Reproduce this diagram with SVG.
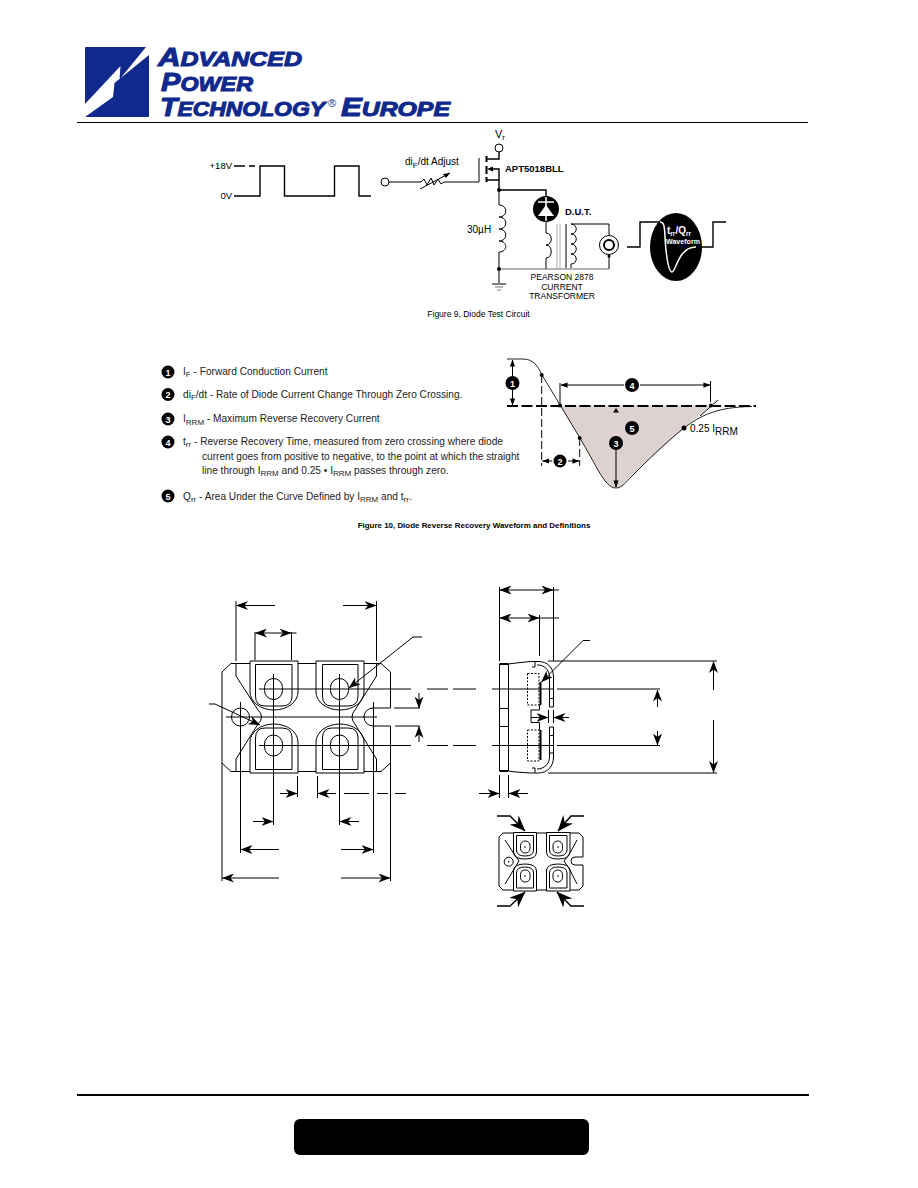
<svg xmlns="http://www.w3.org/2000/svg" width="918" height="1188" viewBox="0 0 918 1188">
<style>
text{font-family:"Liberation Sans",Arial,sans-serif;fill:#000}
.ln{fill:none;stroke:#000;stroke-width:1}
.l2{fill:none;stroke:#000;stroke-width:1.4}
.dim{fill:none;stroke:#000;stroke-width:1}
.dk{fill:#000;stroke:none}
.wn{fill:#fff;font-size:9px;font-weight:bold;text-anchor:middle}
.lg{font-size:10.15px;fill:#222}
.sub{font-size:8px}
.sub2{font-size:10px}
.wt{fill:#fff;font-weight:bold}
.logo{fill:#10298c;font-weight:bold;font-style:italic;stroke:#10298c;stroke-width:1}
</style>
<defs>
<marker id="a" viewBox="0 0 12 9" refX="11.5" refY="4.500" markerWidth="12" markerHeight="9" markerUnits="userSpaceOnUse" orient="auto-start-reverse"><path d="M0 0 L3.500 4.500 L0 9 L12 4.500Z" fill="#000"/></marker>
<marker id="b" viewBox="0 0 16 13" refX="15.500" refY="6.500" markerWidth="16" markerHeight="13" markerUnits="userSpaceOnUse" orient="auto-start-reverse"><path d="M0 0 L5 6.500 L0 13 L16 6.500Z" fill="#000"/></marker>
<marker id="s" viewBox="0 0 8 6" refX="7.500" refY="3" markerWidth="7" markerHeight="5.500" markerUnits="userSpaceOnUse" orient="auto-start-reverse"><path d="M0 0 L8 3 L0 6Z" fill="#000"/></marker>
</defs>
<rect width="918" height="1188" fill="#fff"/>
<g id="logo">
<rect x="85" y="47" width="64" height="70" rx="1" fill="#10298c"/>
<path d="M85 104 L120.500 66 L119.500 79.500 L146 47 L149 47 L149 55 L114.500 83 L113 97 L85 117Z" fill="#fff"/>
<text class="logo" x="158" y="66" font-size="25" textLength="144" lengthAdjust="spacingAndGlyphs">A<tspan font-size="20">DVANCED</tspan></text>
<text class="logo" x="161" y="91" font-size="25" textLength="92" lengthAdjust="spacingAndGlyphs">P<tspan font-size="20">OWER</tspan></text>
<text class="logo" x="160" y="116" font-size="25" textLength="165" lengthAdjust="spacingAndGlyphs">T<tspan font-size="20">ECHNOLOGY</tspan></text>
<text x="328" y="107" font-size="11" style="fill:#10298c">®</text>
<text class="logo" x="341" y="116" font-size="25" textLength="109" lengthAdjust="spacingAndGlyphs">E<tspan font-size="20">UROPE</tspan></text>
</g>
<path id="header-rule" d="M77 122.500H808" stroke="#000" stroke-width="1"/>
<g id="test-circuit">
<text x="232" y="169" font-size="9.500" text-anchor="end">+18V</text>
<text x="232" y="199" font-size="9.500" text-anchor="end">0V</text>
<path class="l2" d="M234 166H245M249 166H255"/>
<path class="l2" d="M234 196H260V166H284.500V196H334.500V166H359V196H371"/>
<circle class="ln" cx="385" cy="182" r="4"/>
<path class="ln" d="M389 182H421L424 179L427 185L431 178L434 185L438 179L441 184L444 182H479V158"/>
<path class="ln" d="M420 189L450 173"/>
<path d="M450 173L443 174L446 178Z" class="dk"/>
<text x="405" y="165" font-size="10">di<tspan class="sub" dy="3">F</tspan><tspan dy="-3">/dt Adjust</tspan></text>
<text x="495" y="138" font-size="11">V<tspan class="sub" dy="2">r</tspan></text>
<circle class="ln" cx="499" cy="148" r="4"/>
<path class="l2" d="M499 152V159H486"/>
<path d="M486.500 156V162M486.500 166V174M486.500 177V182" stroke="#000" stroke-width="2" fill="none"/>
<path class="l2" d="M492 169H499V180H486M499 180V190"/>
<path d="M487 169L493 166.500V171.500Z" class="dk"/>
<text x="505" y="172" font-size="9.500" font-weight="bold">APT5018BLL</text>
<circle cx="499" cy="190" r="2" class="dk"/>
<path class="l2" d="M499 190H546V196"/>
<circle cx="546" cy="209" r="13" class="dk"/>
<path d="M546 197V221" stroke="#fff" stroke-width="1.500"/>
<path d="M538 202H554" stroke="#fff" stroke-width="1.500"/>
<path d="M546 205L538 216H554Z" fill="#fff"/>
<text x="565" y="215" font-size="9.500" font-weight="bold">D.U.T.</text>
<path class="ln" d="M499 190V205C508 205 508 217 499 217C508 217 508 229 499 229C508 229 508 241 499 241C508 241 508 252 499 252V269"/>
<text x="467" y="233" font-size="10">30µH</text>
<path class="ln" d="M546 222V233C553 233 553 245 546 245C553 245 553 258 546 258V269"/>
<path stroke="#aaa" stroke-width="1" d="M557 224V268M560 224V268" fill="none"/>
<path class="ln" d="M566 224V268"/>
<path class="ln" d="M609 235V224H571C578 224 578 234 571 234C578 234 578 244 571 244C578 244 578 254 571 254C578 254 578 264 571 264V268M609 255V269"/>
<path stroke="#666" stroke-width="1" d="M499 269H609" fill="none"/>
<circle cx="609" cy="245" r="9.500" fill="none" stroke="#000" stroke-width="1"/>
<circle cx="609" cy="245" r="5" fill="none" stroke="#000" stroke-width="2"/>
<circle cx="609" cy="256" r="1.500" class="dk"/>
<circle cx="499" cy="269" r="2" class="dk"/>
<path class="ln" d="M499 269V283M492 284H506"/>
<path stroke="#777" d="M495 287H503M497 290H501" fill="none"/>
<text x="562" y="280" font-size="8.500" text-anchor="middle">PEARSON 2878</text>
<text x="562" y="289.500" font-size="8.500" text-anchor="middle">CURRENT</text>
<text x="562" y="299" font-size="8.500" text-anchor="middle">TRANSFORMER</text>
<ellipse cx="676" cy="247" rx="26" ry="34" class="dk"/>
<path class="l2" d="M627 247H640V222H660"/>
<path d="M660 222C666 222 664 232 666 250C668 268 670 272 672 272C676 272 678 247 696 247" fill="none" stroke="#fff" stroke-width="1.500"/>
<path class="l2" d="M696 247H713V222H726"/>
<text class="wt" x="667" y="234" font-size="10">t<tspan font-size="6.500" dy="2">rr</tspan><tspan dy="-2">/Q</tspan><tspan font-size="6.500" dy="2">rr</tspan></text>
<text class="wt" x="666" y="244" font-size="8" textLength="34" lengthAdjust="spacingAndGlyphs">Waveform</text>
<text x="478.500" y="317" font-size="8.500" text-anchor="middle">Figure 9, Diode Test Circuit</text>
</g>
<g id="definitions">
<g id="n1"><circle cx="168" cy="372" r="6.500" class="dk"/><text class="wn" x="168" y="375.500">1</text></g>
<g id="n2"><circle cx="168" cy="394.500" r="6.500" class="dk"/><text class="wn" x="168" y="398">2</text></g>
<g id="n3"><circle cx="168" cy="419" r="6.500" class="dk"/><text class="wn" x="168" y="422.500">3</text></g>
<g id="n4"><circle cx="168" cy="442" r="6.500" class="dk"/><text class="wn" x="168" y="445.500">4</text></g>
<g id="n5"><circle cx="168" cy="496" r="6.500" class="dk"/><text class="wn" x="168" y="499.500">5</text></g>
<text class="lg" x="183" y="375">I<tspan class="sub" dy="2">F</tspan><tspan dy="-2"> - Forward Conduction Current</tspan></text>
<text class="lg" x="183" y="398">di<tspan class="sub" dy="2">F</tspan><tspan dy="-2">/dt - Rate of Diode Current Change Through Zero Crossing.</tspan></text>
<text class="lg" x="183" y="422">I<tspan class="sub" dy="3">RRM</tspan><tspan dy="-3"> - Maximum Reverse Recovery Current</tspan></text>
<text class="lg" x="183" y="445">t<tspan class="sub" dy="2">rr</tspan><tspan dy="-2"> - Reverse Recovery Time, measured from zero crossing where diode</tspan></text>
<text class="lg" x="202" y="459.500">current goes from positive to negative, to the point at which the straight</text>
<text class="lg" x="202" y="474">line through I<tspan class="sub" dy="2">RRM</tspan><tspan dy="-2"> and 0.25 • I</tspan><tspan class="sub" dy="2">RRM</tspan><tspan dy="-2"> passes through zero.</tspan></text>
<text class="lg" x="183" y="500">Q<tspan class="sub" dy="2">rr</tspan><tspan dy="-2"> - Area Under the Curve Defined by I</tspan><tspan class="sub" dy="2">RRM</tspan><tspan dy="-2"> and t</tspan><tspan class="sub" dy="2">rr</tspan><tspan dy="-2">.</tspan></text>
<text x="474" y="528" font-size="7.950" font-weight="bold" text-anchor="middle">Figure 10, Diode Reverse Recovery Waveform and Definitions</text>
</g>
<g id="recovery-waveform">
<path d="M560 405.500H711L684 428L630 477C624 484 620 488 616 488C607 488 602 477 596 465Z" fill="#ddd2cf"/>
<path d="M507 359H523C533 359 538 366 542 375L580 438L598 470C605 482 610 488 616 488C622 488 626 482 632 476C648 460 664 444 684 428C700 416 716 407 752 406.500" fill="none" stroke="#222" stroke-width="1"/>
<path d="M507 406H756" stroke="#000" stroke-width="2" stroke-dasharray="11 3.500" fill="none"/>
<circle cx="541.700" cy="375" r="2" class="dk"/><circle cx="560" cy="405.500" r="2" class="dk"/><circle cx="579.700" cy="438" r="2" class="dk"/><circle cx="684" cy="428" r="2.500" class="dk"/><circle cx="711" cy="405.500" r="2" class="dk"/>
<path class="ln" d="M541.700 375V466M579.700 438V466" stroke-dasharray="8 3"/>
<path class="ln" d="M552 461H542.500" marker-end="url(#s)"/>
<path class="ln" d="M568 461H579" marker-end="url(#s)"/>
<path class="ln" d="M512.500 376V360" marker-end="url(#s)"/>
<path class="ln" d="M512.500 390V405" marker-end="url(#s)"/>
<circle cx="512.500" cy="383" r="7" class="dk"/><text class="wn" x="512.500" y="386.500">1</text>
<circle cx="560" cy="461" r="6.500" class="dk"/><text class="wn" x="560" y="464.500">2</text>
<path class="ln" d="M560 383V405M710.500 381V402"/>
<path class="ln" d="M624 385H561" marker-end="url(#s)"/>
<path class="ln" d="M640 385H710" marker-end="url(#s)"/>
<circle cx="632" cy="385" r="7" class="dk"/><text class="wn" x="632" y="388.500">4</text>
<path d="M700 416L718 400" class="ln"/>
<path d="M616 408L613 412.500H619Z" class="dk"/>
<circle cx="632" cy="428" r="7" class="dk"/><text class="wn" x="632" y="431.500">5</text>
<circle cx="616" cy="443" r="7" class="dk"/><text class="wn" x="616" y="446.500">3</text>
<path class="ln" d="M616 450V487" marker-end="url(#s)"/>
<text x="690" y="432" font-size="10">0.25 I<tspan class="sub2" dy="3">RRM</tspan></text>
</g>
<g id="connectors" class="dim">
<g id="top-dims">
<path class="dim" d="M236 601V661M376.500 601V661M255 632V660M291.500 632V660"/>
<path class="dim" d="M275 605.500H236.500" marker-end="url(#a)"/>
<path class="dim" d="M343 605.500H376" marker-end="url(#a)"/>
<path class="dim" d="M270 633H255.500" marker-end="url(#a)"/>
<path class="dim" d="M270 633H291" marker-end="url(#a)"/>
<path class="dim" d="M291 633H296.500"/>
<path class="dim" d="M422 637H413L349 688" marker-end="url(#a)"/>
<path class="dim" d="M209 704H215L260 725" marker-end="url(#a)"/>
</g>
<g id="bottom-dims">
<path class="dim" d="M222 763V881M390.500 763V881M240.500 702V853M373.500 702V853M273.500 674V825M339.500 674V825M297.500 776V797M317.500 776V798"/>
<path class="dim" d="M280 793.500H297" marker-end="url(#a)"/>
<path class="dim" d="M336 793.500H318" marker-end="url(#a)"/>
<path class="dim" d="M344 793.500H369M377 793.500H388M395 793.500H406"/>
<path class="dim" d="M253 821.500H273" marker-end="url(#a)"/>
<path class="dim" d="M359 821.500H340" marker-end="url(#a)"/>
<path class="dim" d="M279 849.500H241" marker-end="url(#a)"/>
<path class="dim" d="M341 849.500H373" marker-end="url(#a)"/>
<path class="dim" d="M279 878H222.500" marker-end="url(#a)"/>
<path class="dim" d="M341 878H390" marker-end="url(#a)"/>
</g>
<g id="centre-dims">
<path class="dim" d="M259 689H411M259 745.500H411M427 689H448M453 689H476M492 689H553M557 689H660M427 745.500H448M453 745.500H476M492 745.500H553M557 745.500H660"/>
<path class="dim" d="M394 708H420M395 726H420"/>
<path class="dim" d="M419 693V708" marker-end="url(#a)"/>
<path class="dim" d="M419 742V726.500" marker-end="url(#a)"/>
<path class="dim" d="M657.500 707V690" marker-end="url(#a)"/>
<path class="dim" d="M657.500 731V745" marker-end="url(#a)"/>
<path class="dim" d="M713.500 690V661.500" marker-end="url(#a)"/>
<path class="dim" d="M713.500 720V772.500" marker-end="url(#a)"/>
<path class="dim" d="M548 661H717M548 773H717"/>
</g>
<g id="side-dims">
<path class="dim" d="M499.500 587V661M553.500 587V661M539.500 615V656M499.500 775V798M508.500 775V798M548.500 710V723M553.500 710V723"/>
<path class="dim" d="M525 590H500" marker-end="url(#a)"/>
<path class="dim" d="M525 590H553" marker-end="url(#a)"/>
<path class="dim" d="M553 590H559"/>
<path class="dim" d="M525 618H500" marker-end="url(#a)"/>
<path class="dim" d="M525 618H539" marker-end="url(#a)"/>
<path class="dim" d="M539 618H559"/>
<path class="dim" d="M531 717.500H548" marker-end="url(#a)"/>
<path class="dim" d="M569 717.500H554" marker-end="url(#a)"/>
<path class="dim" d="M479 793.500H499" marker-end="url(#a)"/>
<path class="dim" d="M528 793.500H509" marker-end="url(#a)"/>
<path class="dim" d="M590 640.500H583L541.500 682" marker-end="url(#a)"/>
</g>
<g id="mini-arrows">
<path class="l2" d="M497 816H510L525 831" marker-end="url(#b)"/>
<path class="l2" d="M584 816H571L558 831" marker-end="url(#b)"/>
<path class="l2" d="M497 906H510L525 892" marker-end="url(#b)"/>
<path class="l2" d="M584 906H571L557 892" marker-end="url(#b)"/>
</g>
</g>
<g id="package-top">
<path class="ln" d="M250 663.500H231L222 672V763L231 771.500H250M298 663.500H316M364 663.500H381L390.500 672V708H373A9 9 0 0 0 373 726H390.500V763L381 771.500H364M298 771.500H316"/>
<path class="ln" d="M236 663.500V676L258 710Q261.500 713 261.500 717Q261.500 721 258 724L236 759V771.500"/>
<path class="ln" d="M376.500 663.500V676L355 710Q352 713 352 717Q352 721 355 724L376.500 759V771.500"/>
<path class="ln" d="M226 717H377"/>
<path id="t1" class="ln" d="M250 661H298V692A24 18 0 0 1 250 692Z"/>
<path class="ln" d="M255.500 664.500H292V696Q292 706 282 706H265Q255.500 706 255.500 696Z"/>
<path id="t2" class="ln" d="M316 661H364V692A24 18 0 0 1 316 692Z"/>
<path class="ln" d="M322.500 664.500H358V696Q358 706 348 706H332Q322.500 706 322.500 696Z"/>
<path id="t3" class="ln" d="M250 773H298V742A24 18 0 0 0 250 742Z"/>
<path class="ln" d="M255.500 769.500H292V738Q292 728 282 728H265Q255.500 728 255.500 738Z"/>
<path id="t4" class="ln" d="M316 773H364V742A24 18 0 0 0 316 742Z"/>
<path class="ln" d="M322.500 769.500H358V738Q358 728 348 728H332Q322.500 728 322.500 738Z"/>
<g class="ln"><rect x="264.500" y="678.500" width="18" height="21" rx="9"/><rect x="330.500" y="678.500" width="18" height="21" rx="9"/><rect x="264.500" y="735" width="18" height="21" rx="9"/><rect x="330.500" y="735" width="18" height="21" rx="9"/></g>
<circle class="ln" cx="240.500" cy="717" r="9"/>
</g>
<g id="package-side">
<path class="ln" d="M499.500 664V771M508.500 664V771"/>
<path d="M499.500 664H508M499.500 771H508" stroke="#000" stroke-width="2" fill="none"/>
<path class="ln" d="M508 664L516 663L530.500 661.500H535V667H532"/>
<path class="ln" d="M508 771L516 772L530.500 773H535V768H532"/>
<path class="ln" d="M499.500 708.500H508M499.500 726.500H508"/>
<path class="ln" d="M535 661.500H538C548 661.500 553.500 668 553.500 677V707H549.500V677C549.500 670 544 664.500 537 665"/>
<path class="ln" d="M535 773H538C548 773 553.500 766 553.500 757V727H549.500V757C549.500 764 544 769 537 769"/>
<path class="ln" d="M549.500 698.500H553.500M549.500 735.500H553.500M549.500 753H553.500"/>
<path class="ln" d="M527.500 673.500H539V705H527.500Z M527.500 730H539V761H527.500Z" stroke-dasharray="2 1.500"/>
<path d="M540.500 682V705M540.500 730V760" stroke="#000" stroke-width="2" fill="none"/>
<path class="ln" d="M539.500 705V710H531V722.500H539.500V730"/>
</g>
<g id="package-mini">
<path class="ln" d="M513 833H503L499 837V886L503 890H513M537 833H547M570 833H579L583 837V857H575A4 4 0 0 0 575 865H583V886L579 890H570M537 890H547"/>
<path class="ln" d="M513.500 832.500H536.500V852Q536.500 859 525 859Q513.500 859 513.500 852Z M546.500 832.500H570V852Q570 859 558 859Q546.500 859 546.500 852Z M513.500 891H536.500V871Q536.500 864 525 864Q513.500 864 513.500 871Z M546.500 891H570V871Q570 864 558 864Q546.500 864 546.500 871Z"/>
<path class="ln" d="M516.500 835.500H533.500V850Q533.500 856 525 856Q516.500 856 516.500 850Z M549.500 835.500H567V850Q567 856 558 856Q549.500 856 549.500 850Z M516.500 888H533.500V873Q533.500 867 525 867Q516.500 867 516.500 873Z M549.500 888H567V873Q567 867 558 867Q549.500 867 549.500 873Z"/>
<path class="ln" d="M505 840L513.500 853L519 861L513.500 870L505 884M577 840L570 853L564 861L570 870L577 884"/>
<g class="ln"><rect x="520.500" y="841" width="9.500" height="12" rx="4.500"/><rect x="553" y="841" width="9.500" height="12" rx="4.500"/><rect x="520.500" y="870" width="9.500" height="12" rx="4.500"/><rect x="553" y="870" width="9.500" height="12" rx="4.500"/><circle cx="508.700" cy="861.700" r="4.500"/></g>
<g class="dk"><circle cx="525" cy="847" r=".8"/><circle cx="558" cy="847" r=".8"/><circle cx="525" cy="876" r=".8"/><circle cx="558" cy="876" r=".8"/><circle cx="508.700" cy="861.700" r=".8"/></g>
</g>
<path id="footer-rule" d="M77 1095H809" stroke="#000" stroke-width="2"/>
<rect id="footer-box" x="294" y="1119" width="295" height="36" rx="6" fill="#000"/>
</svg>
